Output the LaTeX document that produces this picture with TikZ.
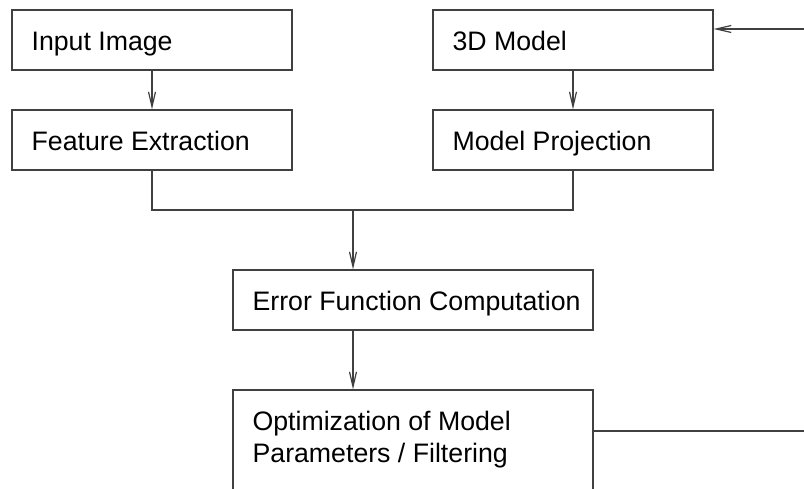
\documentclass[tikz,border=0pt]{standalone}
\usepackage{fontspec}
\setmainfont{Liberation Sans}
\usetikzlibrary{arrows.meta}

\begin{document}
\begin{tikzpicture}[x=1pt, y=-1pt,
  box/.style={draw=black!75, line width=1.2pt, inner sep=0pt, minimum height=60pt},
  wide/.style={minimum width=280pt},
  wider/.style={minimum width=360pt},
  lbl/.style={inner sep=0pt, anchor=base west, align=left,
    font=\fontsize{26.7}{32}\selectfont},
  link/.style={draw=black!75, line width=1.2pt},
  arr/.style={link, -{Straight Barb[length=15pt, width=7pt]}}]
  \clip (0,0) rectangle (804,489);

  % process boxes
  \node[box, wide]  (in)    at (152,40)  {};
  \node[box, wide]  (mdl)   at (573,40)  {};
  \node[box, wide]  (feat)  at (152,140) {};
  \node[box, wide]  (proj)  at (573,140) {};
  \node[box, wider] (err)   at (413,300) {};
  \node[box, wider, minimum height=130pt] (opt) at (413,455) {};

  % box captions
  \node[lbl] (tIn)   at ([shift={(20,41)}]in.north west)   {Input Image};
  \node[lbl] (tMdl)  at ([shift={(20,41)}]mdl.north west)  {3D Model};
  \node[lbl] (tFeat) at ([shift={(20,41)}]feat.north west) {Feature Extraction};
  \node[lbl] (tProj) at ([shift={(20,41)}]proj.north west) {Model Projection};
  \node[lbl] (tErr)  at ([shift={(20,41)}]err.north west)  {Error Function Computation};
  \node[lbl, anchor=north west] (tOpt) at ([shift={(20,21.5)}]opt.north west)
    {Optimization of Model\\Parameters / Filtering};

  % junction and feedback ends
  \coordinate (j)     at (353,210);
  \coordinate (fbIn)  at (806,29);
  \coordinate (fbOut) at (806,431);

  % connectors
  \draw[arr] (in.south) -- (feat.north);
  \draw[arr] (mdl.south) -- (proj.north);
  \draw[link] (feat.south) |- (j) -| (proj.south);
  \draw[arr] (j) -- (err.north -| j);
  \draw[arr] (err.south -| j) -- (opt.north -| j);
  \draw[link] (opt.east |- fbOut) -- (fbOut);
  \draw[arr] (fbIn) -- (mdl.east |- fbIn);
\end{tikzpicture}
\end{document}
